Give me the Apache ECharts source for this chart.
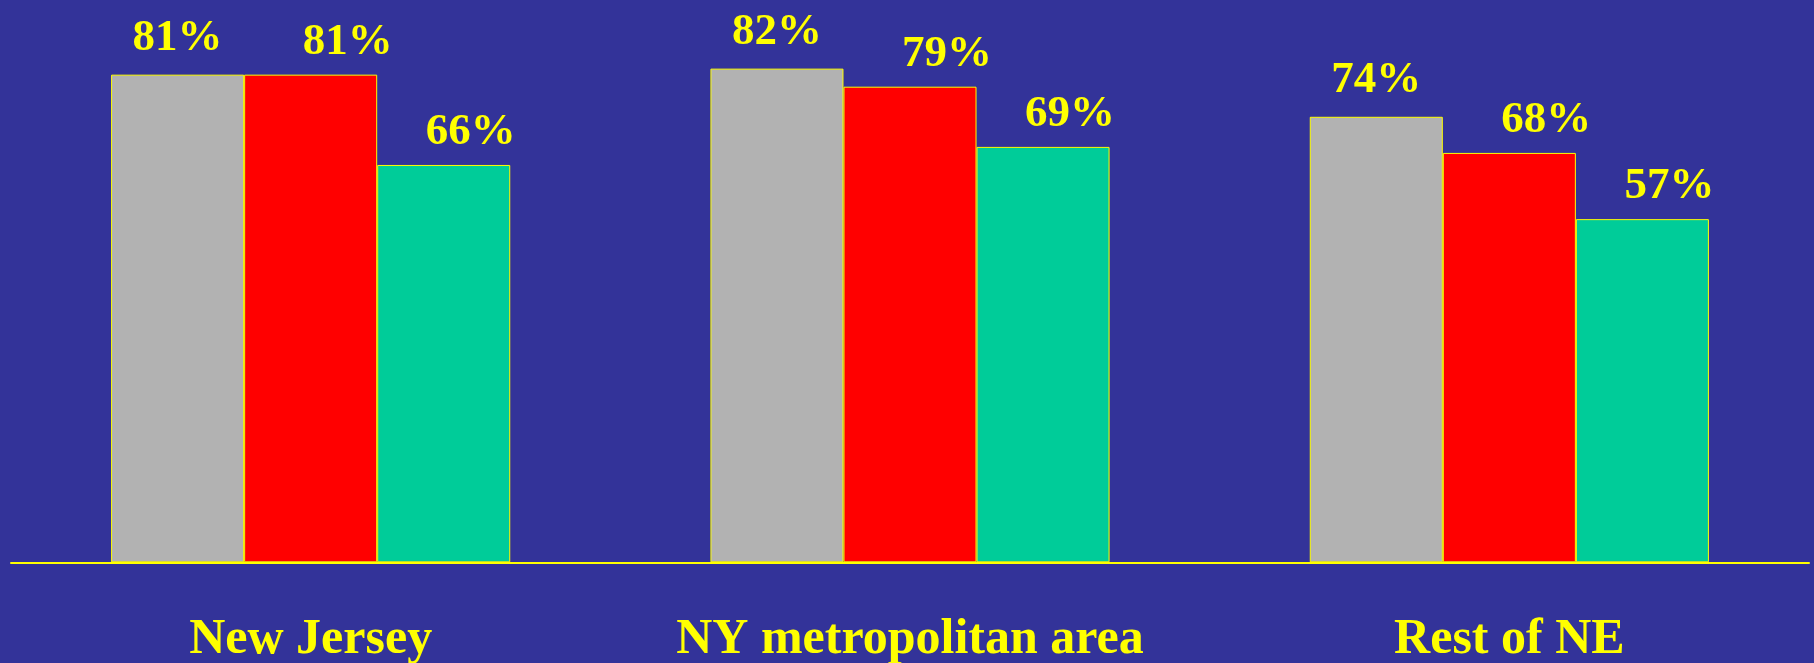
<!DOCTYPE html>
<html>
<head>
<meta charset="utf-8">
<script src="https://cdn.jsdelivr.net/npm/echarts@6/dist/echarts.min.js"></script>
<style>
html,body{margin:0;padding:0;background:#333399;}
#chart{width:1814px;height:663px;}
</style>
</head>
<body>
<div id="chart"></div>
<script>
var categories = ['New Jersey', 'NY metropolitan area', 'Rest of NE'];
var seriesGray = [81, 82, 74];
var seriesRed = [81, 79, 68];
var seriesGreen = [66, 69, 57];

var FONT = '"Liberation Serif", "Times New Roman", serif';
function mkSeries(name, data, color, dx, dist) {
  return {
    name: name,
    type: 'bar',
    data: data,
    barGap: '0%',
    barCategoryGap: '33.4%',
    itemStyle: { color: color, borderColor: '#FFFF00', borderWidth: 1 },
    label: {
      show: true,
      position: 'top',
      distance: dist,
      offset: [dx, 0],
      formatter: '{c}%',
      color: '#FFFF00',
      fontFamily: FONT,
      fontWeight: 'bold',
      fontSize: 45
    }
  };
}
var chart = echarts.init(document.getElementById('chart'));
chart.setOption({
  backgroundColor: '#333399',
  animation: false,
  grid: { left: 11, right: 5, top: 0, bottom: 100.7, containLabel: false, outerBoundsMode: 'none' },
  xAxis: {
    type: 'category',
    data: categories,
    axisLine: { lineStyle: { color: '#FFFF00', width: 2 } },
    axisTick: { show: false },
    axisLabel: {
      interval: 0,
      color: '#FFFF00',
      fontFamily: FONT,
      fontWeight: 'bold',
      fontSize: 50,
      margin: 53
    }
  },
  yAxis: {
    type: 'value',
    min: 0,
    max: 93.4,
    show: false,
    splitLine: { show: false }
  },
  series: [
    mkSeries('Gray', seriesGray, '#B2B2B2', 0, 14),
    mkSeries('Red', seriesRed, '#FF0000', 37, 10),
    mkSeries('Green', seriesGreen, '#00CC99', 27, 10)
  ]
});
</script>
</body>
</html>
